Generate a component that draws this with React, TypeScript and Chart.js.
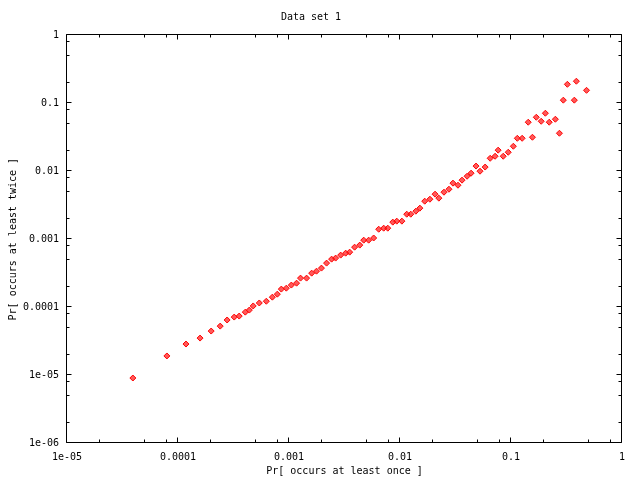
import React, { useEffect, useRef } from "react";
import { Chart, registerables } from "chart.js";

Chart.register(...registerables);

const chartTitle = "Data set 1";
const xAxisTitle = "Pr[ occurs at least once ]";
const yAxisTitle = "Pr[ occurs at least twice ]";

const xTickValues = [1e-5, 1e-4, 1e-3, 1e-2, 1e-1, 1];
const xTickLabels = ["1e-05", "0.0001", "0.001", "0.01", "0.1", "1"];
const yTickValues = [1e-6, 1e-5, 1e-4, 1e-3, 1e-2, 1e-1, 1];
const yTickLabels = ["1e-06", "1e-05", "0.0001", "0.001", "0.01", "0.1", "1"];
const minorTickMultipliers = [2, 5, 8];

const xValues = [
  3.92e-5, 7.94e-5, 1.18e-4, 1.58e-4, 1.99e-4, 2.4e-4, 2.77e-4, 3.21e-4, 3.56e-4, 4.04e-4,
  4.39e-4, 4.76e-4, 5.4e-4, 6.25e-4, 7.08e-4, 7.85e-4, 8.53e-4, 9.46e-4, 1.05e-3, 1.17e-3,
  1.27e-3, 1.44e-3, 1.6e-3, 1.77e-3, 1.96e-3, 2.18e-3, 2.42e-3, 2.63e-3, 2.92e-3, 3.24e-3,
  3.52e-3, 3.9e-3, 4.34e-3, 4.71e-3, 5.22e-3, 5.79e-3, 6.43e-3, 7.13e-3, 7.76e-3, 8.61e-3,
  9.35e-3, 1.04e-2, 1.15e-2, 1.25e-2, 1.39e-2, 1.51e-2, 1.67e-2, 1.86e-2, 2.07e-2, 2.24e-2,
  2.49e-2, 2.76e-2, 3.0e-2, 3.33e-2, 3.62e-2, 4.02e-2, 4.37e-2, 4.84e-2, 5.26e-2, 5.85e-2,
  6.49e-2, 7.19e-2, 7.66e-2, 8.51e-2, 9.44e-2, 0.105, 0.114, 0.126, 0.143, 0.156,
  0.169, 0.187, 0.204, 0.221, 0.251, 0.273, 0.296, 0.322, 0.372, 0.388,
  0.479,
];

const yValues = [
  9.04e-6, 1.91e-5, 2.86e-5, 3.5e-5, 4.44e-5, 5.25e-5, 6.46e-5, 7.13e-5, 7.38e-5, 8.43e-5,
  9.04e-5, 1.04e-4, 1.15e-4, 1.22e-4, 1.4e-4, 1.55e-4, 1.84e-4, 1.9e-4, 2.11e-4, 2.25e-4,
  2.67e-4, 2.67e-4, 3.16e-4, 3.38e-4, 3.75e-4, 4.44e-4, 5.08e-4, 5.26e-4, 5.82e-4, 6.22e-4,
  6.44e-4, 7.62e-4, 8.17e-4, 9.66e-4, 9.66e-4, 1.04e-3, 1.4e-3, 1.45e-3, 1.45e-3, 1.78e-3,
  1.84e-3, 1.84e-3, 2.33e-3, 2.33e-3, 2.58e-3, 2.86e-3, 3.62e-3, 3.87e-3, 4.59e-3, 4.01e-3,
  4.91e-3, 5.43e-3, 6.67e-3, 6.22e-3, 7.38e-3, 8.43e-3, 9.35e-3, 1.19e-2, 1.0e-2, 1.15e-2,
  1.55e-2, 1.66e-2, 2.04e-2, 1.66e-2, 1.9e-2, 2.33e-2, 3.05e-2, 3.05e-2, 5.26e-2, 3.16e-2,
  6.22e-2, 5.43e-2, 7.13e-2, 5.26e-2, 5.82e-2, 3.62e-2, 0.111, 0.19, 0.111, 0.211,
  0.155,
];

const FONT = { family: "'DejaVu Sans Mono', 'Liberation Mono', monospace", size: 10 };

const frameAndTicks = {
  id: "frameAndTicks",
  afterDraw(chart: any) {
    const { ctx, chartArea } = chart;
    const { left, top, right, bottom } = chartArea;
    const xs = chart.scales.x;
    const ys = chart.scales.y;
    const L = Math.round(left) - 0.5;
    const R = Math.round(right) - 0.5;
    const T = Math.round(top) - 0.5;
    const B = Math.round(bottom) - 0.5;
    ctx.save();
    ctx.strokeStyle = "#000";
    ctx.lineWidth = 1;
    ctx.beginPath();
    ctx.rect(L, T, R - L, B - T);
    const majorLen = 5;
    const minorLen = 3;
    const xTicks: [number, number][] = [];
    xTickValues.forEach((v, i) => {
      xTicks.push([v, majorLen]);
      if (i < xTickValues.length - 1) minorTickMultipliers.forEach((m) => xTicks.push([v * m, minorLen]));
    });
    const yTicks: [number, number][] = [];
    yTickValues.forEach((v, i) => {
      yTicks.push([v, majorLen]);
      if (i < yTickValues.length - 1) minorTickMultipliers.forEach((m) => yTicks.push([v * m, minorLen]));
    });
    xTicks.forEach(([v, len]) => {
      const px = Math.round(xs.getPixelForValue(v)) - 0.5;
      ctx.moveTo(px, B);
      ctx.lineTo(px, B - len);
      ctx.moveTo(px, T);
      ctx.lineTo(px, T + len);
    });
    yTicks.forEach(([v, len]) => {
      const py = Math.round(ys.getPixelForValue(v)) - 0.5;
      ctx.moveTo(L, py);
      ctx.lineTo(L + len, py);
      ctx.moveTo(R, py);
      ctx.lineTo(R - len, py);
    });
    ctx.stroke();
    ctx.restore();
  },
};

export default function App() {
  const canvasRef = useRef<HTMLCanvasElement | null>(null);

  useEffect(() => {
    if (!canvasRef.current) return;
    const points = xValues.map((x, i) => ({ x, y: yValues[i] }));
    const chart = new Chart(canvasRef.current, {
      type: "scatter",
      data: {
        datasets: [
          {
            label: chartTitle,
            data: points,
            pointStyle: "rectRot",
            radius: 3,
            borderWidth: 1,
            borderColor: "#ff0000",
            backgroundColor: "rgba(255,0,0,0.65)",
          },
        ],
      },
      options: {
        animation: false,
        responsive: false,
        devicePixelRatio: 1,
        layout: { padding: { top: 0, right: 18, bottom: 0, left: 0 } },
        plugins: {
          legend: { display: false },
          tooltip: { enabled: false },
          title: {
            display: true,
            text: chartTitle,
            color: "#000",
            font: { ...FONT, weight: "normal" },
            padding: { top: 11.7, bottom: 11.6 },
          },
        },
        scales: {
          x: {
            type: "logarithmic",
            min: 1e-5,
            max: 1,
            afterBuildTicks: (scale: any) => {
              scale.ticks = xTickValues.map((v) => ({ value: v, major: true }));
            },
            afterFit: (scale: any) => {
              scale.height = 37;
            },
            grid: { display: false, drawTicks: false },
            border: { display: false },
            ticks: {
              autoSkip: false,
              maxRotation: 0,
              padding: 8,
              color: "#000",
              font: FONT,
              callback: (_v: any, i: number) => xTickLabels[i],
            },
            title: {
              display: true,
              text: xAxisTitle,
              color: "#000",
              font: FONT,
              padding: { top: 0, bottom: 2.3 },
            },
          },
          y: {
            type: "logarithmic",
            min: 1e-6,
            max: 1,
            afterBuildTicks: (scale: any) => {
              scale.ticks = yTickValues.map((v) => ({ value: v, major: true }));
            },
            afterFit: (scale: any) => {
              scale.width = 67;
            },
            grid: { display: false, drawTicks: false },
            border: { display: false },
            ticks: {
              autoSkip: false,
              padding: 8,
              color: "#000",
              font: FONT,
              callback: (_v: any, i: number) => yTickLabels[i],
            },
            title: {
              display: true,
              text: yAxisTitle,
              color: "#000",
              font: FONT,
              padding: { top: 7, bottom: 0 },
            },
          },
        },
      },
      plugins: [frameAndTicks],
    });
    return () => chart.destroy();
  }, []);

  return (
    <div style={{ position: "fixed", left: 0, top: 0, width: 640, height: 480, background: "#fff" }}>
      <canvas ref={canvasRef} width={640} height={480} />
    </div>
  );
}
